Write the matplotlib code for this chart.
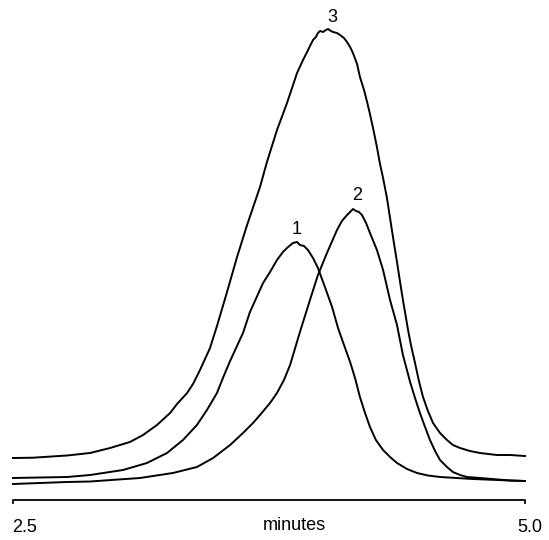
import numpy as np
import matplotlib.pyplot as plt

# retention time (min) and detector signal for each trace
t3 = [2.500, 2.598, 2.764, 2.876, 2.974, 3.071, 3.135, 3.203, 3.267, 3.301,
      3.350, 3.379, 3.413, 3.462, 3.496, 3.545, 3.594, 3.643, 3.706, 3.740,
      3.789, 3.838, 3.887, 3.916, 3.936, 3.950, 3.965, 3.979, 3.989, 3.999,
      4.014, 4.028, 4.038, 4.053, 4.063, 4.082, 4.097, 4.116, 4.131, 4.146,
      4.160, 4.180, 4.194, 4.214, 4.229, 4.243, 4.258, 4.277, 4.292, 4.307,
      4.326, 4.341, 4.360, 4.375, 4.390, 4.404, 4.429, 4.443, 4.463, 4.482,
      4.502, 4.526, 4.551, 4.585, 4.619, 4.648, 4.683, 4.731, 4.780, 4.863,
      4.927, 5.000]
s3 = [4.2, 4.23, 4.45, 4.7, 5.2, 5.8, 6.5, 7.5, 8.7, 9.6,
      10.7, 11.6, 13.0, 15.2, 17.4, 20.8, 24.3, 27.5, 31.3, 33.8,
      37.0, 39.7, 42.7, 44.0, 44.8, 45.4, 46.0, 46.3, 46.7, 46.9,
      46.8, 47.0, 47.1, 46.9, 46.8, 46.7, 46.5, 46.2, 45.8, 45.3,
      44.7, 43.6, 42.3, 41.0, 39.8, 38.6, 37.2, 35.3, 33.6, 32.2,
      30.2, 28.2, 25.7, 23.8, 21.8, 20.0, 17.0, 15.5, 13.7, 11.9,
      10.3, 8.9, 7.7, 6.7, 6.0, 5.5, 5.2, 4.9, 4.7, 4.5,
      4.5, 4.4]

t1 = [2.500, 2.764, 2.876, 3.037, 3.154, 3.252, 3.330, 3.398, 3.447, 3.496,
      3.525, 3.560, 3.623, 3.657, 3.721, 3.755, 3.789, 3.818, 3.843, 3.867,
      3.887, 3.901, 3.921, 3.940, 3.965, 3.989, 4.023, 4.058, 4.087, 4.111,
      4.146, 4.170, 4.194, 4.219, 4.243, 4.272, 4.307, 4.341, 4.375, 4.424,
      4.473, 4.526, 4.585, 4.746, 4.927, 5.000]
s1 = [2.2, 2.3, 2.5, 3.0, 3.7, 4.7, 6.0, 7.5, 9.0, 10.7,
      12.2, 13.9, 16.7, 18.8, 21.7, 22.8, 24.0, 24.8, 25.3, 25.7,
      25.8, 25.5, 25.4, 25.0, 24.2, 23.2, 21.3, 19.3, 17.2, 15.8,
      13.8, 12.2, 10.3, 8.7, 7.3, 6.0, 5.0, 4.3, 3.7, 3.1,
      2.7, 2.45, 2.3, 2.1, 1.95, 1.9]

t2 = [2.500, 2.764, 2.876, 3.120, 3.281, 3.398, 3.477, 3.560, 3.623, 3.672,
      3.706, 3.755, 3.789, 3.823, 3.853, 3.901, 3.950, 3.989, 4.033, 4.082,
      4.106, 4.131, 4.146, 4.160, 4.175, 4.189, 4.204, 4.224, 4.243, 4.277,
      4.307, 4.341, 4.375, 4.404, 4.439, 4.463, 4.487, 4.512, 4.536, 4.561,
      4.585, 4.619, 4.648, 4.683, 4.717, 4.780, 4.927, 5.000]
s2 = [1.6, 1.8, 1.85, 2.2, 2.7, 3.3, 4.2, 5.5, 6.7, 7.7,
      8.5, 9.7, 10.7, 12.0, 13.5, 16.8, 20.0, 22.5, 24.7, 27.0,
      27.9, 28.5, 28.8, 29.1, 28.9, 28.8, 28.5, 27.7, 26.7, 25.0,
      23.0, 20.0, 17.5, 14.5, 11.8, 10.2, 8.7, 7.3, 6.0, 4.9,
      4.0, 3.3, 2.8, 2.5, 2.3, 2.2, 1.95, 1.9]

peak_labels = ["1", "2", "3"]
label_pos = [(3.887, 27.0), (4.180, 30.5), (4.058, 48.3)]

plt.rcParams['font.family'] = ['Liberation Sans', 'DejaVu Sans']

fig = plt.figure(figsize=(5.49, 5.40), dpi=100)
ax = fig.add_axes([0, 0, 1, 1])
ax.set_xlim(2.4365, 5.1172)
ax.set_ylim(-4.0, 50.0)
ax.axis('off')

for t, s in [(t3, s3), (t1, s1), (t2, s2)]:
    ax.plot(t, s, color='black', lw=1.4, solid_joinstyle='round')

for lab, (x, y) in zip(peak_labels, label_pos):
    ax.text(x, y, lab, ha='center', va='center', fontsize=13)

# time axis with end ticks
ax.plot([2.5, 2.5, 5.0, 5.0], [-0.3, 0, 0, -0.3], color='black', lw=1.3)
ax.text(2.554, -2.8, "2.5", ha='center', va='center', fontsize=13)
ax.text(3.872, -2.6, "minutes", ha='center', va='center', fontsize=13)
ax.text(5.024, -2.8, "5.0", ha='center', va='center', fontsize=13)

fig.savefig('out.png', dpi=100)
